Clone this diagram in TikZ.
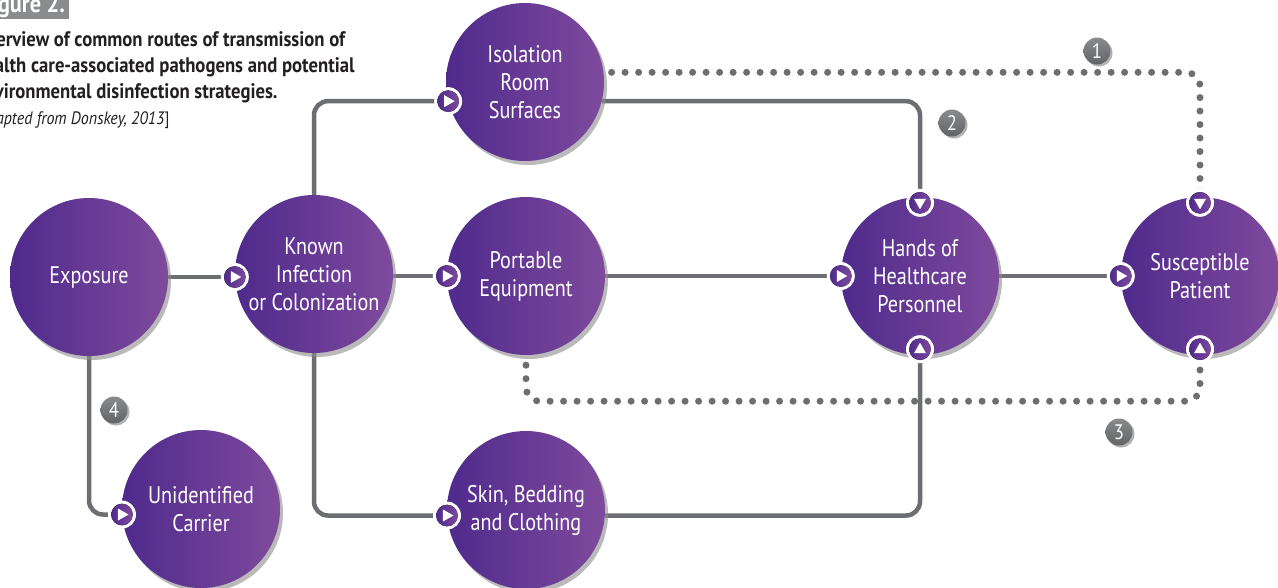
\documentclass[tikz,border=0pt]{standalone}
\usepackage{fontspec}
\setmainfont{PT Sans}[FakeStretch=0.89]
\newfontfamily\circfont{PT Sans}[FakeStretch=0.84]
\usetikzlibrary{shadows,backgrounds}
\definecolor{purpleL}{HTML}{4F2A8C}
\definecolor{purpleR}{HTML}{7E4A9D}
\definecolor{tippurple}{HTML}{5A2D91}
\definecolor{linegray}{HTML}{6D6E71}
\definecolor{badgegray}{HTML}{8A8B8D}
\definecolor{captext}{HTML}{231F20}

\begin{document}
\begin{tikzpicture}[x=1pt, y=-1pt]
  \tikzset{
    route/.style={draw=linegray, line width=4.5pt, rounded corners=14pt},
    dotroute/.style={draw=linegray, line width=7pt, line cap=round,
                     dash pattern=on 0pt off 13.5pt, rounded corners=14pt},
    stage/.style={circle, minimum size=158pt, inner sep=0pt, align=center,
                  left color=purpleL, right color=purpleR, text=white,
                  font=\circfont\fontsize{24}{28}\selectfont,
                  drop shadow={shadow xshift=3pt, shadow yshift=-4pt, fill=black!45, opacity=0.6}},
    badge/.style={circle, minimum size=27pt, inner sep=0pt,
                  top color=badgegray, bottom color=linegray!90!black, text=white,
                  font=\fontsize{21}{21}\selectfont,
                  drop shadow={shadow xshift=2pt, shadow yshift=-2pt, fill=black!50, opacity=0.6}},
    pics/tipmark/.style={code={
      \fill[white] (0,0) circle (14);
      \fill[left color=purpleL, right color=purpleR] (0,0) circle (10.8);
      \fill[white] (-4,-6) -- (6.5,0) -- (-4,6) -- cycle;
    }}
  }
  \useasboundingbox (0,0) rectangle (1278,587);
  \clip (0,0) rectangle (1278,587);

  \node[fill=badgegray, text=white, anchor=south east, inner xsep=4pt, inner ysep=2pt,
        text depth=4pt, font=\bfseries\fontsize{25}{25}\selectfont] (fig) at (69,19) {Figure 2.};
  \node[anchor=north west, align=left, inner sep=0pt, text=captext,
        font=\bfseries\fontsize{21}{26}\selectfont] (caption) at (-25,31)
    {Overview of common routes of transmission of\\
     health care-associated pathogens and potential\\
     environmental disinfection strategies.\\
     {\mdseries\fontsize{18}{26}\selectfont[\textit{adapted from Donskey, 2013}]}};

  \node[stage] (expo) at (89,277) {Exposure};
  \node[stage] (known) at (314,274) {Known\\Infection\\or Colonization};
  \node[stage] (port) at (526,276) {Portable\\Equipment};
  \node[stage] (iso) at (525,82) {Isolation\\Room\\Surfaces};
  \node[stage] (hands) at (920,276) {Hands of\\Healthcare\\Personnel};
  \node[stage] (sus) at (1200,276) {Susceptible\\Patient};
  \node[stage] (unid) at (201,509) {Unidentified\\Carrier};
  \node[stage] (skin) at (526,510) {Skin, Bedding\\and Clothing};

  \begin{scope}[on background layer]
    \draw[route] (expo) -- (known.west |- expo);
    \draw[route] (known.east |- port) -- (port);
    \draw[route] (port) -- (hands);
    \draw[route] (hands) -- (sus);
    \draw[route] (known.south) |- (skin.184);
    \draw[route] (known.north) |- (iso.194);
    \draw[route] (iso.-14) -| (hands.north);
    \draw[route] (skin.-4) -| (hands.south);
    \draw[route] (expo.south) |- (unid.184);
    \draw[dotroute] ([xshift=8pt]iso.7) -| (sus.north);
    \draw[dotroute] ([yshift=-10pt]port.south) -- ++(0,36) -| (sus.south);
  \end{scope}

  \pic at (known.west |- expo) {tipmark};
  \pic at (port.west) {tipmark};
  \pic at (hands.west) {tipmark};
  \pic at (sus.west) {tipmark};
  \pic at (iso.194) {tipmark};
  \pic at (skin.184) {tipmark};
  \pic at (unid.184) {tipmark};
  \pic[rotate=-90] at ([yshift=-6pt]hands.north) {tipmark};
  \pic[rotate=90] at ([yshift=6pt]hands.south) {tipmark};
  \pic[rotate=-90] at ([yshift=-6pt]sus.north) {tipmark};
  \pic[rotate=90] at ([yshift=6pt]sus.south) {tipmark};

  \node[badge] (n1) at (1097,51) {1};
  \node[badge] (n2) at (952,123) {2};
  \node[badge] (n3) at (1119,432) {3};
  \node[badge] (n4) at (114,410) {4};
\end{tikzpicture}
\end{document}
